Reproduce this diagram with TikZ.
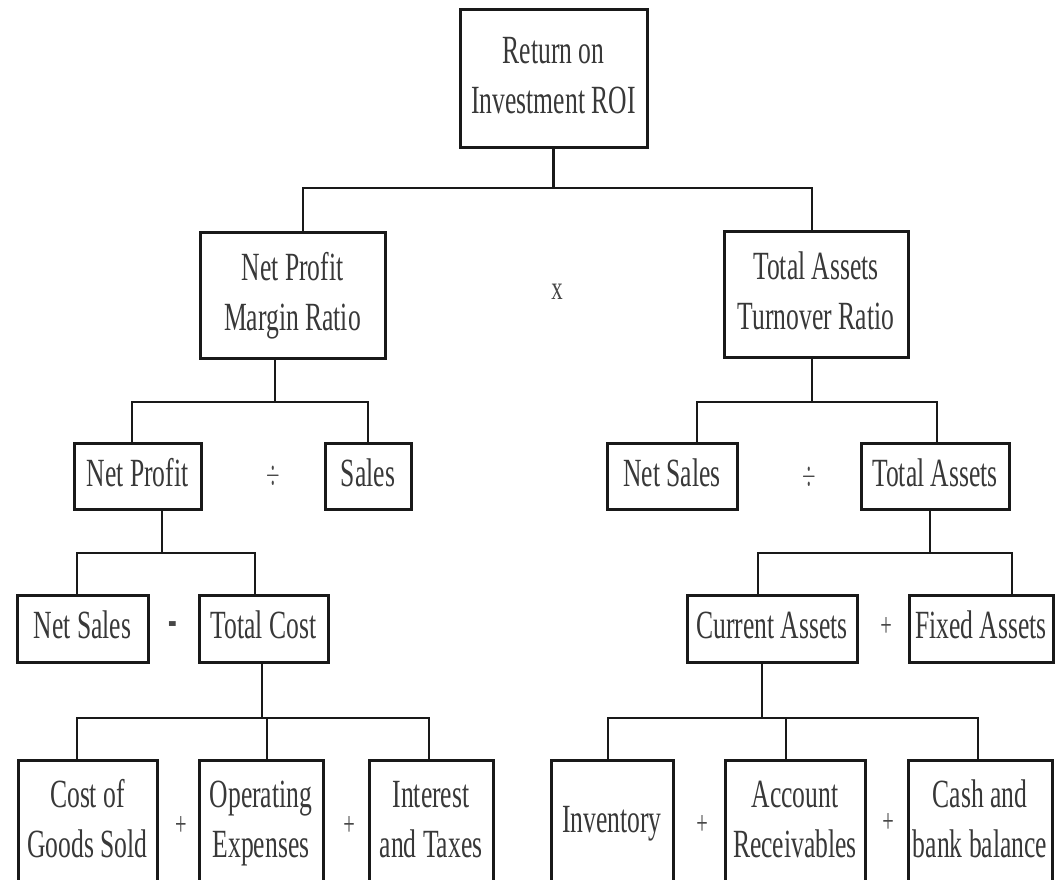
\documentclass[tikz,border=0pt]{standalone}
\usepackage{fontspec}
\setmainfont{Liberation Serif}
\usepackage{graphicx}
\newcommand{\sqz}[1]{\scalebox{0.64}[1]{\begin{tabular}{@{}c@{}}#1\end{tabular}}}
\newcommand{\plusop}{\scalebox{0.85}[1.4]{+}}
\newcommand{\divop}{\scalebox{0.7}[1.4]{$\div$}}
\tikzset{
  boxnode/.style={draw=black!90, line width=3pt, fill=white, inner sep=0pt,
    text=black!78, font=\fontsize{40}{50}\selectfont},
  conn/.style={draw=black!90, line width=2.3pt, line join=miter},
  opnode/.style={inner sep=0pt, text=black!72, font=\fontsize{24}{26}\selectfont}
}
\begin{document}
\begin{tikzpicture}[x=1pt,y=-1pt]
\useasboundingbox[fill=white] (0,0) rectangle (1055,880);
% level 0
\node[boxnode, minimum width=187pt, minimum height=138pt] (root) at (553.5,79) {\sqz{Return on\\Investment ROI}};
% level 1
\node[boxnode, minimum width=185pt, minimum height=126pt] (npmr) at (292.5,295) {\sqz{Net Profit\\Margin Ratio}};
\node[boxnode, minimum width=184pt, minimum height=126pt] (tatr) at (816,294) {\sqz{Total Assets\\Turnover Ratio}};
\node[opnode] (opx) at (557,292) {\scalebox{0.95}[1.4]{x}};
% level 2
\node[boxnode, minimum width=127pt, minimum height=66pt] (np) at (137.5,476) {\sqz{Net Profit}};
\node[boxnode, minimum width=86pt, minimum height=66pt] (sales) at (368,476) {\sqz{Sales}};
\node[opnode] (opd1) at (273,476) {\divop};
\node[boxnode, minimum width=130pt, minimum height=66pt] (nsr) at (672,476) {\sqz{Net Sales}};
\node[boxnode, minimum width=148pt, minimum height=66pt] (ta) at (935,476) {\sqz{Total Assets}};
\node[opnode] (opd2) at (809,477) {\divop};
% level 3
\node[boxnode, minimum width=131pt, minimum height=67pt] (nsl) at (82.5,628.5) {\sqz{Net Sales}};
\node[boxnode, minimum width=129pt, minimum height=67pt] (tc) at (263.5,628.5) {\sqz{Total Cost}};
\node[opnode, font=\fontsize{26}{28}\selectfont\bfseries] (opm) at (173,630) {\scalebox{1}[2.2]{-}};
\node[boxnode, minimum width=170pt, minimum height=67pt] (ca) at (772,628.5) {\sqz{Current Assets}};
\node[boxnode, minimum width=144pt, minimum height=67pt] (fa) at (981,628.5) {\sqz{Fixed Assets}};
\node[opnode] (opp0) at (886,627) {\plusop};
% level 4
\node[boxnode, minimum width=139pt, minimum height=124pt] (cogs) at (87.5,822) {\sqz{Cost of\\Goods Sold}};
\node[boxnode, minimum width=124pt, minimum height=124pt] (opex) at (261,822) {\sqz{Operating\\Expenses}};
\node[boxnode, minimum width=124pt, minimum height=124pt] (it) at (431,822) {\sqz{Interest\\and Taxes}};
\node[opnode] (opp1) at (181,826) {\plusop};
\node[opnode] (opp2) at (349,826) {\plusop};
\node[boxnode, minimum width=122pt, minimum height=124pt] (inv) at (612,822) {\sqz{Inventory}};
\node[boxnode, minimum width=140pt, minimum height=124pt] (ar) at (795,822) {\sqz{Account\\Receivables}};
\node[boxnode, minimum width=144pt, minimum height=124pt] (cash) at (980,822) {\sqz{Cash and\\bank balance}};
\node[opnode] (opp3) at (702,825) {\plusop};
\node[opnode] (opp4) at (888,823) {\plusop};
% bar levels
\coordinate (b1) at (0,188);
\coordinate (b2) at (0,402);
\coordinate (b3) at (0,553);
\coordinate (b4) at (0,718);
% connectors
\draw[conn] (root.south) -- (root.south |- b1);
\draw[conn] ([xshift=10.5pt]npmr.north) |- ([xshift=-4pt]tatr.north |- b1) -- ([xshift=-4pt]tatr.north);
\draw[conn] ([xshift=-17.5pt]npmr.south) -- ([xshift=-17.5pt]npmr.south |- b2);
\draw[conn] ([xshift=-5.5pt]np.north) |- (sales.north |- b2) -- (sales.north);
\draw[conn] ([xshift=-4pt]tatr.south) -- ([xshift=-4pt]tatr.south |- b2);
\draw[conn] ([xshift=25pt]nsr.north) |- ([xshift=2pt]ta.north |- b2) -- ([xshift=2pt]ta.north);
\draw[conn] ([xshift=24.5pt]np.south) -- ([xshift=24.5pt]np.south |- b3);
\draw[conn] ([xshift=-5.5pt]nsl.north) |- ([xshift=-8.5pt]tc.north |- b3) -- ([xshift=-8.5pt]tc.north);
\draw[conn] ([xshift=-5pt]ta.south) -- ([xshift=-5pt]ta.south |- b3);
\draw[conn] ([xshift=-14pt]ca.north) |- ([xshift=31pt]fa.north |- b3) -- ([xshift=31pt]fa.north);
\draw[conn] ([xshift=-1.5pt]tc.south) -- ([xshift=-1.5pt]tc.south |- b4);
\draw[conn] ([xshift=-10.5pt]cogs.north) |- ([xshift=-2pt]it.north |- b4) -- ([xshift=-2pt]it.north);
\draw[conn] ([xshift=6pt]opex.north) -- ([xshift=6pt]opex.north |- b4);
\draw[conn] ([xshift=-10pt]ca.south) -- ([xshift=-10pt]ca.south |- b4);
\draw[conn] ([xshift=-4pt]inv.north) |- ([xshift=-2pt]cash.north |- b4) -- ([xshift=-2pt]cash.north);
\draw[conn] ([xshift=-9pt]ar.north) -- ([xshift=-9pt]ar.north |- b4);
\end{tikzpicture}
\end{document}
